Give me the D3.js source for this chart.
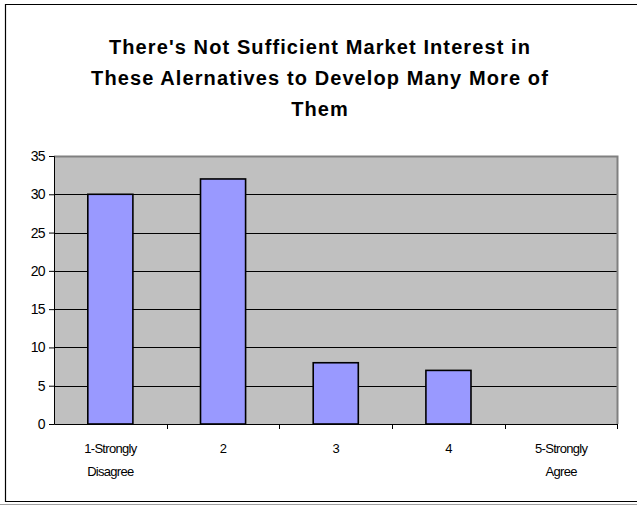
<!DOCTYPE html>
<html>
<head>
<meta charset="utf-8">
<script src="https://cdn.jsdelivr.net/npm/d3@7"></script>
<style>
  html, body { margin: 0; padding: 0; background: #fff; }
  svg { display: block; }
  text { font-family: "Liberation Sans", Arial, sans-serif; }
</style>
</head>
<body>
<svg id="chart" width="637" height="506"></svg>
<script>
// Survey responses
const categories = ["1-Strongly\nDisagree", "2", "3", "4", "5-Strongly\nAgree"];
const counts = [30, 32, 8, 7, 0];
const yTicks = [0, 5, 10, 15, 20, 25, 30, 35];
const titleLines = [
  "There's Not Sufficient Market Interest in",
  "These Alernatives to Develop Many More of",
  "Them"
];

const svg = d3.select("#chart");
const W = 637, H = 506;

// chart frame
svg.append("line").attr("x1", 0).attr("x2", W).attr("y1", 504.5).attr("y2", 504.5)
  .attr("stroke", "#a0a0a0").attr("stroke-width", 1);
svg.append("path")
  .attr("d", `M${W},4.5 H5.5 V501.5 H${W}`)
  .attr("fill", "none").attr("stroke", "#000").attr("stroke-width", 1.2);

// title
const title = svg.append("text")
  .attr("text-anchor", "middle")
  .attr("font-weight", "bold")
  .attr("font-size", 20)
  .attr("letter-spacing", 1.1);
titleLines.forEach((t, i) => {
  title.append("tspan").attr("x", 320).attr("y", 54 + i * 31).text(t);
});

const plot = { left: 54, right: 617.5, top: 156, bottom: 424 };

const x = d3.scaleBand()
  .domain(categories)
  .range([plot.left, plot.right])
  .paddingInner(0.6)
  .paddingOuter(0.3);

const xTick = d3.scaleBand().domain(categories).range([plot.left, plot.right]);

const y = d3.scaleLinear().domain([0, 35]).range([plot.bottom, plot.top]);

// plot background
svg.append("rect")
  .attr("x", plot.left).attr("y", plot.top)
  .attr("width", plot.right - plot.left).attr("height", plot.bottom - plot.top)
  .attr("fill", "#c0c0c0");

// gridlines
svg.append("g")
  .selectAll("line")
  .data(yTicks.filter(d => d > 0 && d < 35))
  .join("line")
  .attr("x1", plot.left).attr("x2", plot.right)
  .attr("y1", d => Math.round(y(d)) + 0.5).attr("y2", d => Math.round(y(d)) + 0.5)
  .attr("stroke", "#000").attr("stroke-width", 1);

// plot border (top and right in grey)
svg.append("path")
  .attr("d", `M${plot.left},${plot.top + 0.5} H${plot.right} V${plot.bottom}`)
  .attr("fill", "none").attr("stroke", "#808080").attr("stroke-width", 2);

// bars
svg.append("g")
  .selectAll("rect")
  .data(categories.map((c, i) => ({ c, v: counts[i] })).filter(d => d.v > 0))
  .join("rect")
  .attr("x", d => x(d.c))
  .attr("width", x.bandwidth())
  .attr("y", d => y(d.v))
  .attr("height", d => y(0) - y(d.v))
  .attr("fill", "#9999ff")
  .attr("stroke", "#000")
  .attr("stroke-width", 1.6);

// y axis
const yAxis = svg.append("g")
  .attr("transform", `translate(${plot.left},0)`)
  .call(d3.axisLeft(y).tickValues(yTicks).tickSize(5).tickPadding(4).tickFormat(d3.format("d")));
yAxis.select(".domain").attr("stroke", "#000");
yAxis.selectAll(".tick line").attr("stroke", "#000");
yAxis.selectAll("text")
  .attr("font-size", 14)
  .attr("letter-spacing", -0.6)
  .attr("fill", "#000")
  .attr("font-family", "\"Liberation Sans\", Arial, sans-serif");

// x axis
const xAxis = svg.append("g")
  .attr("transform", `translate(0,${plot.bottom})`)
  .call(d3.axisBottom(xTick).tickValues([]).tickSizeOuter(0));
xAxis.select(".domain").attr("stroke", "#000");
xAxis.selectAll(".cat-tick")
  .data(categories.slice(1))
  .join("line")
  .attr("class", "cat-tick")
  .attr("x1", d => Math.round(xTick(d)) + 0.5).attr("x2", d => Math.round(xTick(d)) + 0.5)
  .attr("y1", 0).attr("y2", 5)
  .attr("stroke", "#000");
svg.append("line")
  .attr("x1", plot.right).attr("x2", plot.right)
  .attr("y1", plot.bottom).attr("y2", plot.bottom + 5)
  .attr("stroke", "#000");

const labels = svg.append("g")
  .selectAll("text")
  .data(categories)
  .join("text")
  .attr("text-anchor", "middle")
  .attr("font-size", 13)
  .attr("letter-spacing", -0.7)
  .attr("fill", "#000");
labels.each(function (d) {
  const cx = xTick(d) + xTick.bandwidth() / 2;
  d.split("\n").forEach((line, i) => {
    d3.select(this).append("tspan")
      .attr("x", cx).attr("y", 453 + i * 23).text(line);
  });
});
</script>
</body>
</html>
